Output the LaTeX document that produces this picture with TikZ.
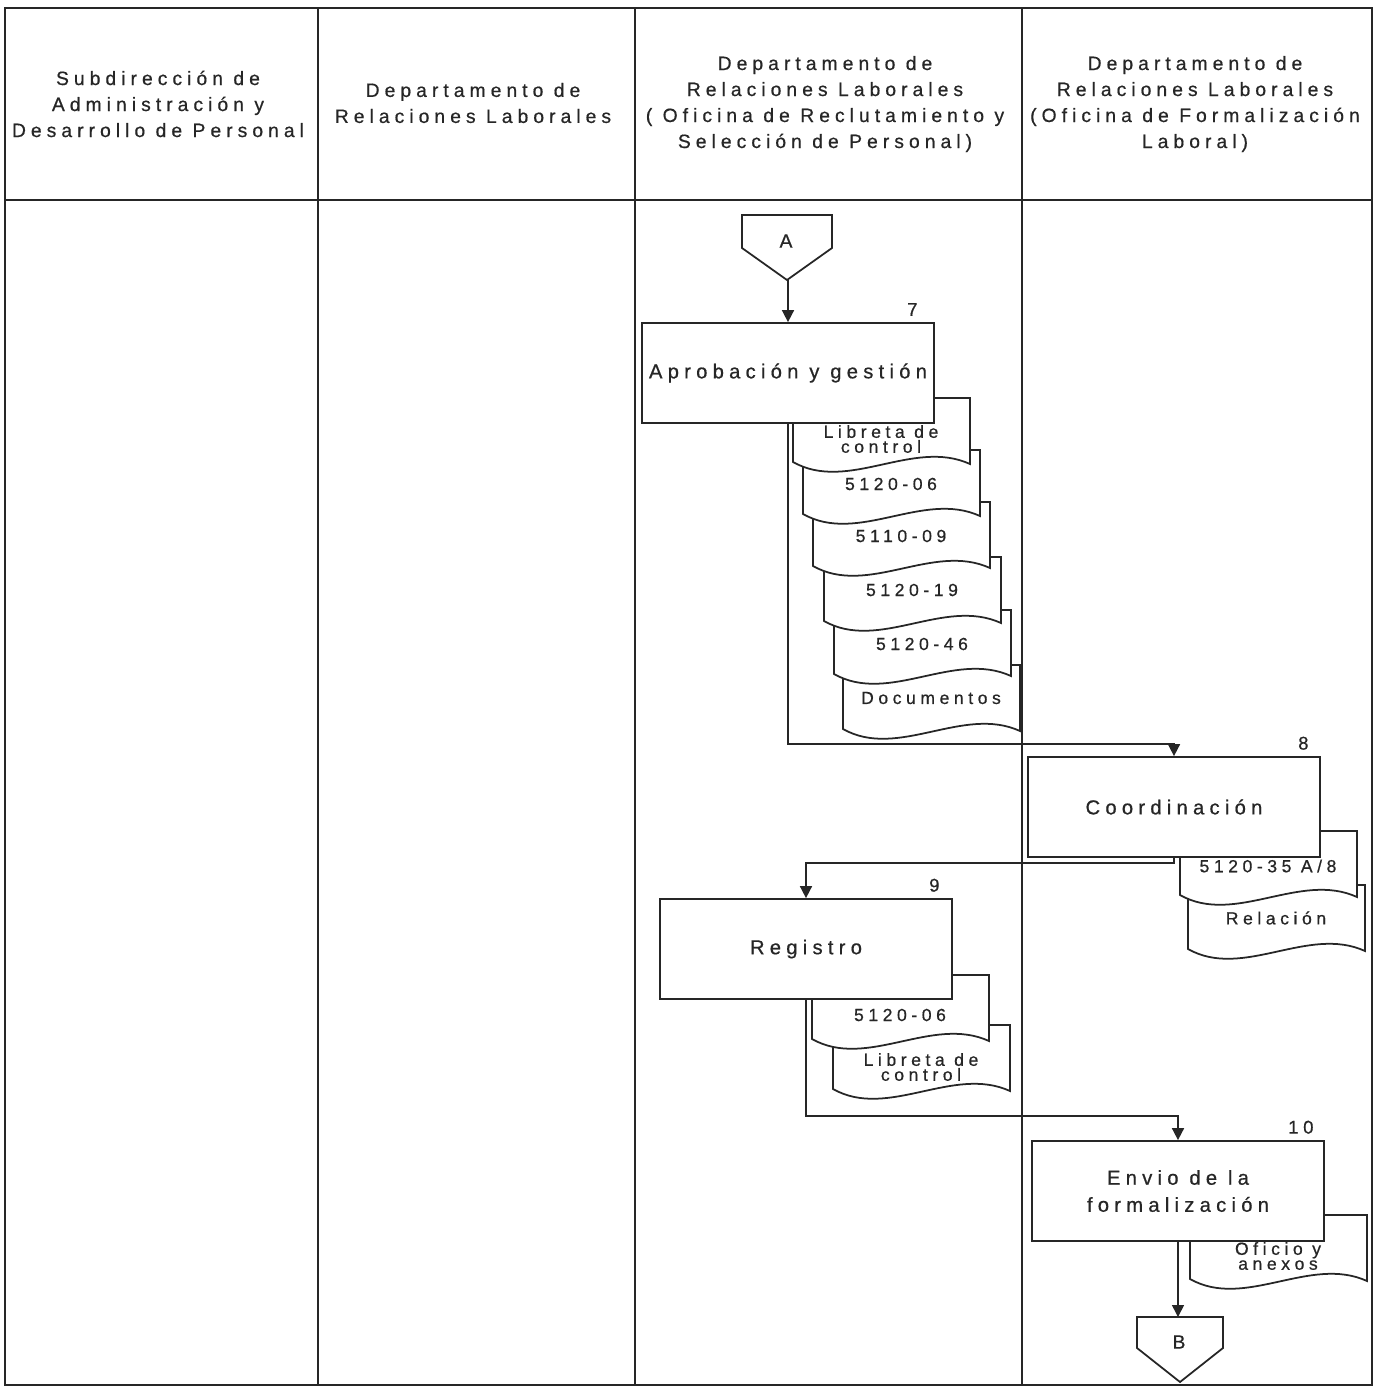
\documentclass[tikz,border=0pt]{standalone}
\usepackage{fontspec}
\usepackage{tikz}
\usetikzlibrary{arrows.meta}
\newfontfamily\lanefont[LetterSpace=26, FakeBold=0.6]{Liberation Sans}

\begin{document}
\begin{tikzpicture}[x=0.02cm, y=-0.02cm, line join=miter,
    lane/.style={draw=black!85, line width=1.1pt},
    hdr/.style={font=\lanefont\fontsize{11}{14.8}\selectfont, align=center, text=black!85, inner sep=0pt},
    proc/.style={draw=black!85, line width=1pt, fill=white, minimum width=5.84cm, minimum height=2cm,
                 font=\lanefont\fontsize{11.5}{15.4}\selectfont, align=center, text=black!85, inner sep=0pt},
    num/.style={font=\lanefont\fontsize{10.5}{12}\selectfont, anchor=south east, inner sep=0pt, text=black!85},
    conn/.style={draw=black!85, line width=1pt, fill=white},
    arr/.style={draw=black!85, line width=0.9pt, -{Triangle[length=2.4mm, width=2.4mm]}},
    doctext/.style={font=\lanefont\fontsize{10}{8.5}\selectfont, align=center, text=black!85, inner sep=0pt},
    pics/docu/.style n args={2}{code={
      \draw[conn] (0,0) -- (177,0) -- (177,66) .. controls (120,40) and (55,95) .. (0,64) -- cycle;
      \node[doctext] at (88,#1) {#2};}}]
  \useasboundingbox (0,0) rectangle (1385,1387);

  % swim lanes
  \draw[lane] (5,8) rectangle (1372,1385);
  \draw[lane] (5,200) -- (1372,200);
  \foreach \x in {318,635,1022}
    \draw[lane] (\x,8) -- (\x,1385);
  \node[hdr] (H1) at (158,104) {Subdirección de\\Administración y\\Desarrollo de Personal};
  \node[hdr] (H2) at (473,103) {Departamento de\\Relaciones Laborales};
  \node[hdr] (H3) at (825,104) {Departamento de\\Relaciones Laborales\\( Oficina de Reclutamiento y\\Selección de Personal)};
  \node[hdr] (H4) at (1195,104) {Departamento de\\Relaciones Laborales\\(Oficina de Formalización\\Laboral)};

  % connector A
  \draw[conn] (742,215) -- (832,215) -- (832,248) -- (787,280) -- (742,248) -- cycle;
  \node[hdr, font=\lanefont\fontsize{11}{12}\selectfont] (A) at (786,241) {A};
  \coordinate (Atip) at (788,280);

  % documents (back to front)
  \pic at (843,665) {docu={33}{Documentos}};
  \pic at (834,610) {docu={34}{5120-46}};
  \pic at (824,557) {docu={33}{5120-19}};
  \pic at (813,502) {docu={34}{5110-09}};
  \pic at (803,450) {docu={34}{5120-06}};
  \pic at (793,398) {docu={41}{Libreta de\\control}};
  \pic at (1188,885) {docu={33}{Relación}};
  \pic at (1180,831) {docu={35}{5120-35 A/8}};
  \pic at (833,1025) {docu={42}{Libreta de\\control}};
  \pic at (812,975) {docu={40}{5120-06}};
  \pic at (1190,1215) {docu={41}{Oficio y\\anexos}};

  % process boxes
  \node[proc] (P7) at (788,373) {Aprobación y gestión};
  \node[proc] (P8) at (1174,807) {Coordinación};
  \node[proc] (P9) at (806,949) {Registro};
  \node[proc] (P10) at (1178,1191) {Envio de la\\formalización};
  \node[num] (N7) at ([xshift=-0.34cm, yshift=0.12cm]P7.north east) {7};
  \node[num] (N8) at ([xshift=-0.24cm, yshift=0.12cm]P8.north east) {8};
  \node[num] (N9) at ([xshift=-0.26cm, yshift=0.12cm]P9.north east) {9};
  \node[num] (N10) at ([xshift=-0.22cm, yshift=0.12cm]P10.north east) {10};

  % connector B
  \draw[conn] (1137,1317) -- (1223,1317) -- (1223,1348) -- (1180,1382) -- (1137,1348) -- cycle;
  \node[hdr, font=\lanefont\fontsize{11}{12}\selectfont] (B) at (1179,1342) {B};
  \coordinate (Btop) at (1180,1317);

  % flow
  \draw[arr] (Atip) -- (Atip |- P7.north);
  \draw[arr] (P7.south) |- ([yshift=0.24cm]P8.north) -- (P8.north);
  \draw[arr] (P8.south) -- ([yshift=-0.1cm]P8.south) -| (P9.north);
  \draw[arr] (P9.south) |- ([yshift=0.48cm]P10.north) -- (P10.north);
  \draw[arr] (P10.south) -- (P10.south |- Btop);
\end{tikzpicture}
\end{document}
